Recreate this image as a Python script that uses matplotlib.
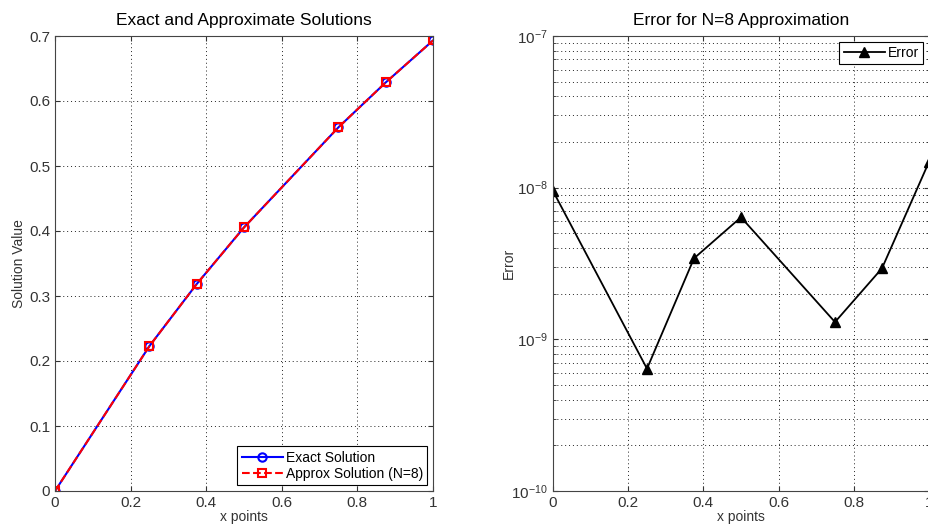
import matplotlib
matplotlib.use("Agg")
import matplotlib.pyplot as plt
from matplotlib.ticker import LogLocator, NullFormatter

x_points = [0.0, 0.25, 0.375, 0.5, 0.75, 0.875, 1.0]
exact_vals = [0.0, 0.2231, 0.3185, 0.4055, 0.5596, 0.6286, 0.6931]
approx_vals = [0.0, 0.2231, 0.3185, 0.4055, 0.5596, 0.6286, 0.6931]
error_vals = [9.5e-9, 6.4e-10, 3.42e-9, 6.38e-9, 1.30e-9, 2.94e-9, 1.48e-8]

plt.rcParams['font.family'] = ['Liberation Sans', 'DejaVu Sans']
plt.rcParams['font.size'] = 10

fig = plt.figure(figsize=(9.29, 5.29), dpi=100)
W, H = 929, 529

def pos(l, t, r, b):
    return [l / W, 1 - b / H, (r - l) / W, (b - t) / H]

grid_kw = dict(color='#222222', linestyle=(0, (1, 3)), linewidth=0.7)

# Left plot
ax1 = fig.add_axes(pos(55, 36, 433, 491))
ax1.plot(x_points, exact_vals, color='blue', linestyle='-', linewidth=1.5,
         marker='o', markersize=6, markerfacecolor='none', markeredgewidth=1.5,
         label='Exact Solution')
ax1.plot(x_points, approx_vals, color='red', linestyle='--', linewidth=1.5,
         marker='s', markersize=6, markerfacecolor='none', markeredgewidth=1.5,
         label='Approx Solution (N=8)')
ax1.set_xlim(0, 1)
ax1.set_ylim(0, 0.7)
ax1.set_xticks([0, 0.2, 0.4, 0.6, 0.8, 1])
ax1.set_xticklabels(['0', '0.2', '0.4', '0.6', '0.8', '1'])
ax1.set_yticks([0, 0.1, 0.2, 0.3, 0.4, 0.5, 0.6, 0.7])
ax1.set_yticklabels(['0', '0.1', '0.2', '0.3', '0.4', '0.5', '0.6', '0.7'])
ax1.grid(True, **grid_kw)
ax1.set_title('Exact and Approximate Solutions', fontsize=12.5, pad=8)
ax1.set_xlabel('x points', color='#333333', labelpad=0)
ax1.set_ylabel('Solution Value', color='#333333', labelpad=2)
leg1 = ax1.legend(loc='lower right', fancybox=False, edgecolor='black',
                  framealpha=1, borderaxespad=0.4, handlelength=3,
                  borderpad=0.3, labelspacing=0.2, handletextpad=0.2)
leg1.get_frame().set_linewidth(0.8)

# Right plot
ax2 = fig.add_axes(pos(553, 36, 929, 491))
ax2.semilogy(x_points, error_vals, color='black', linestyle='-', linewidth=1.3,
             marker='^', markersize=7, markerfacecolor='black',
             label='Error')
ax2.set_xlim(0, 1)
ax2.set_ylim(1e-10, 1e-7)
ax2.set_xticks([0, 0.2, 0.4, 0.6, 0.8, 1])
ax2.set_xticklabels(['0', '0.2', '0.4', '0.6', '0.8', '1'])
ax2.yaxis.set_major_locator(LogLocator(base=10, numticks=10))
ax2.yaxis.set_minor_locator(LogLocator(base=10, subs=range(2, 10), numticks=10))
ax2.yaxis.set_minor_formatter(NullFormatter())
ax2.grid(True, which='both', **grid_kw)
ax2.set_title('Error for N=8 Approximation', fontsize=12.5, pad=8)
ax2.set_xlabel('x points', color='#333333', labelpad=0)
ax2.set_ylabel('Error', color='#333333', labelpad=-3)
leg2 = ax2.legend(loc='upper right', fancybox=False, edgecolor='black',
                  framealpha=1, borderaxespad=0.4, handlelength=3,
                  borderpad=0.3, handletextpad=0.2)
leg2.get_frame().set_linewidth(0.8)

for ax in (ax1, ax2):
    ax.tick_params(direction='in', which='both', top=True, right=True,
                   colors='#333333', labelcolor='#333333', labelsize=11)
    for s in ax.spines.values():
        s.set_color('#444444')
        s.set_linewidth(0.8)

fig.savefig('out.png', dpi=100)
